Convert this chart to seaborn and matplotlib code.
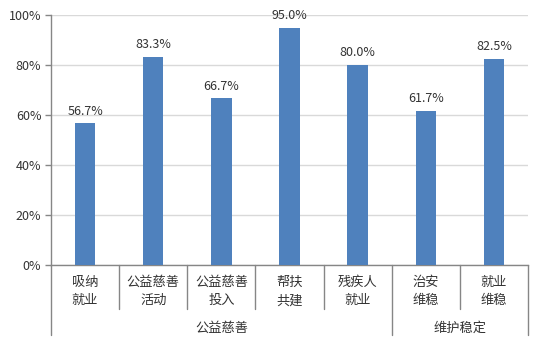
import matplotlib
matplotlib.use("Agg")
import matplotlib.pyplot as plt
import matplotlib.transforms as mtransforms
from matplotlib.lines import Line2D
import seaborn as sns
import pandas as pd

# ---- data ----
categories = ["吸纳\n就业", "公益慈善\n活动", "公益慈善\n投入", "帮扶\n共建", "残疾人\n就业", "治安\n维稳", "就业\n维稳"]
values = [56.7, 83.3, 66.7, 95.0, 80.0, 61.7, 82.5]
groups = ["公益慈善", "维护稳定"]
group_sizes = [5, 2]
y_ticks = [0, 20, 40, 60, 80, 100]
y_tick_labels = ["0%", "20%", "40%", "60%", "80%", "100%"]

df = pd.DataFrame({"cat": categories, "val": values})

sns.set_theme(style="white")
plt.rcParams["font.family"] = ["Noto Sans CJK SC", "DejaVu Sans"]

TEXT = "#333333"
AXIS = "#868686"
GRID = "#D9D9D9"
BAR = "#4F81BD"

fig = plt.figure(figsize=(5.43, 3.43), dpi=100)
ax = fig.add_axes([51 / 543, 78 / 343, 477 / 543, 250 / 343])

sns.barplot(data=df, x="cat", y="val", color=BAR, width=0.3, ax=ax,
            saturation=1, edgecolor="none", zorder=3)

ax.set_xlim(-0.5, len(categories) - 0.5)
ax.set_ylim(0, 100)
ax.set_yticks(y_ticks)
ax.set_yticklabels(y_tick_labels, fontsize=9, color=TEXT)
ax.set_xticks([])
ax.set_xlabel("")
ax.set_ylabel("")
ax.yaxis.grid(True, color=GRID, linewidth=1, zorder=0)
ax.set_axisbelow(True)
ax.tick_params(axis="y", length=4, width=1, color=AXIS, pad=3, left=True)

for s in ["top", "right"]:
    ax.spines[s].set_visible(False)
ax.spines["left"].set_color(AXIS)
ax.spines["bottom"].set_color(AXIS)
ax.spines["left"].set_linewidth(1)
ax.spines["bottom"].set_linewidth(1)

# value labels
for i, v in enumerate(values):
    ax.annotate(f"{v:.1f}%", (i, v), xytext=(0, 4), textcoords="offset points",
                ha="center", va="bottom", fontsize=9, color=TEXT)

trans = mtransforms.blended_transform_factory(ax.transData, ax.transAxes)

# category labels
for i, c in enumerate(categories):
    ax.text(i, -0.045, c, transform=trans, ha="center", va="top",
            fontsize=9.5, color=TEXT, linespacing=1.5)

# separators
short_y = -44 / 250
long_y = -70 / 250
boundaries = [0]
acc = 0
for g in group_sizes:
    acc += g
    boundaries.append(acc)
for k in range(len(categories) + 1):
    x = k - 0.5
    y_end = long_y if k in boundaries else short_y
    ax.add_line(Line2D([x, x], [0, y_end], transform=trans, color=AXIS,
                       linewidth=1, clip_on=False))

# group labels
start = 0
for g, n in zip(groups, group_sizes):
    center = start + (n - 1) / 2
    ax.text(center, -63 / 250, g, transform=trans, ha="center", va="center",
            fontsize=9.5, color=TEXT)
    start += n

fig.savefig("out.png", dpi=100)
